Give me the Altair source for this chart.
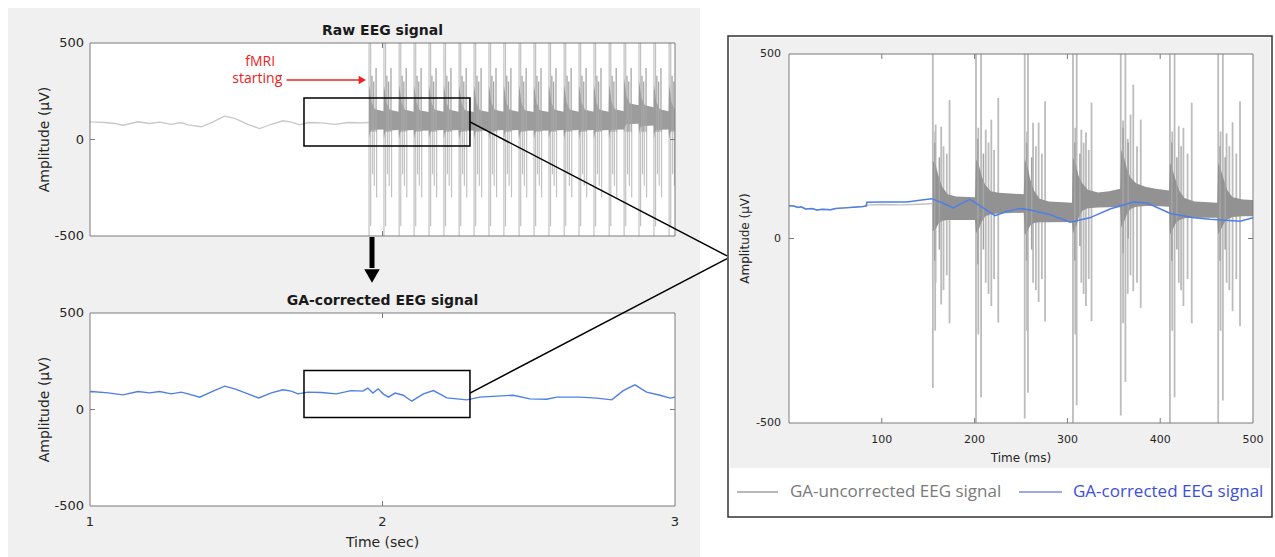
import altair as alt
import pandas as pd

# ---------------- data ----------------
# Raw EEG before fMRI onset (top panel): time (s), amplitude (µV)
raw_pre_t = [1.000, 1.005, 1.050, 1.084, 1.113, 1.164, 1.204, 1.238, 1.278, 1.312, 1.335, 1.381, 1.421, 1.460,
             1.495, 1.540, 1.580, 1.620, 1.660, 1.688, 1.717, 1.745, 1.791, 1.837, 1.882, 1.928, 1.955]
raw_pre_v = [92, 91, 88, 83, 74, 92, 83, 90, 78, 88, 76, 66, 91, 121,
             109, 78, 57, 79, 97, 90, 76, 88, 86, 78, 88, 86, 88]

# gradient-artifact volumes in the top panel (s) and EEG level under each
burst_t = [1.954, 2.005, 2.057, 2.108, 2.159, 2.210, 2.262, 2.313, 2.364, 2.415, 2.467,
           2.518, 2.569, 2.621, 2.672, 2.723, 2.775, 2.826, 2.877, 2.928, 2.980]
burst_level = [95, 92, 92, 90, 92, 92, 90, 90, 92, 92, 90,
               90, 92, 92, 92, 92, 95, 125, 115, 95, 92]
# one burst: dense band envelope (offset s, low / high relative to level)
band_off = [0.000, 0.003, 0.008, 0.020, 0.050]
band_lo = [-90, -60, -45, -45, -43]
band_hi = [190, 160, 100, 62, 52]
# one burst: spikes (offset s, low µV, high µV, tone)
spk_off = [0.000, 0.0055, 0.010, 0.012, 0.016, 0.018, 0.024, 0.026]
spk_lo = [-500, -450, 40, -180, 40, -240, 40, -300]
spk_hi = [500, 500, 330, 100, 300, 100, 370, 100]
spk_tone = ["light", "light", "dark", "light", "dark", "light", "dark", "light"]

# GA-corrected EEG (bottom panel)
cor_t = [1.000, 1.005, 1.062, 1.113, 1.164, 1.204, 1.238, 1.278, 1.312, 1.335, 1.375, 1.421, 1.460, 1.495,
         1.540, 1.577, 1.620, 1.660, 1.688, 1.711, 1.745, 1.791, 1.842, 1.893, 1.933, 1.950, 1.967, 1.985,
         2.002, 2.020, 2.043, 2.071, 2.100, 2.140, 2.174, 2.220, 2.288, 2.333, 2.447, 2.504, 2.561, 2.596,
         2.675, 2.732, 2.784, 2.823, 2.863, 2.903, 2.949, 2.983, 3.000]
cor_v = [92, 93, 86, 76, 93, 86, 93, 81, 90, 81, 64, 95, 121, 107,
         81, 60, 86, 102, 95, 81, 90, 88, 81, 98, 95, 111, 85, 107,
         81, 64, 85, 74, 43, 81, 98, 60, 50, 64, 74, 55, 53, 64,
         64, 59, 50, 98, 128, 90, 74, 59, 64]

# zoomed panel (ms): GA-corrected (blue)
zc_t = [0, 5, 10, 13, 18, 25, 30, 36, 45, 50, 60, 70, 80, 83, 84, 100, 127, 145, 154, 165,
        177, 186, 195, 208, 222, 235, 249, 260, 281, 303, 324, 346, 371, 386, 411, 436, 454, 486, 500]
zc_v = [89, 88, 84, 86, 80, 81, 77, 79, 78, 81, 83, 85, 87, 88, 98, 99, 99, 105, 108, 97,
        83, 95, 106, 85, 62, 74, 81, 77, 65, 44, 56, 80, 99, 96, 68, 56, 52, 47, 56]
# GA-uncorrected before the onset
zu_pre_t = [0, 5, 10, 13, 18, 25, 30, 36, 45, 50, 60, 70, 80, 84, 85, 100, 120, 140, 155]
zu_pre_v = [89, 88, 84, 86, 80, 81, 77, 79, 78, 81, 83, 85, 87, 88, 91, 92, 91, 93, 95]
# dense artifact band (ms, low, high)
zb_t = [155, 158, 161, 165, 171, 180, 200.5,
        201.5, 204.5, 207.5, 211.5, 217.5, 226, 253,
        254, 257, 260, 264, 270, 280, 305,
        306, 309, 312, 316, 322, 333, 345, 357,
        358, 361, 364, 368, 374, 384, 395, 409.5,
        410.5, 413.5, 416.5, 420.5, 426, 437, 461.5,
        462.5, 465.5, 468.5, 472.5, 478, 489, 500]
zb_lo = [20, 25, 40, 48, 50, 50, 50,
         15, 25, 45, 60, 66, 68, 70,
         10, 20, 35, 42, 44, 44, 45,
         15, 30, 55, 75, 82, 84, 85, 85,
         30, 45, 65, 80, 86, 88, 88, 86,
         10, 25, 40, 50, 55, 56, 56,
         10, 25, 40, 52, 58, 60, 60]
zb_hi = [210, 200, 170, 140, 120, 114, 112,
         215, 200, 170, 145, 128, 124, 120,
         215, 195, 160, 130, 108, 100, 97,
         220, 200, 170, 150, 132, 125, 128, 135,
         240, 220, 190, 165, 150, 140, 135, 130,
         205, 185, 160, 130, 110, 100, 97,
         205, 185, 160, 130, 112, 106, 104]
# light artifact spikes (ms, low, high)
zs_t = [155, 158, 164, 173, 201.5, 207, 212, 218, 225.5, 254, 257.5, 263, 269, 276, 306, 310, 315, 320,
        326, 357.5, 362.5, 368, 371, 379, 410.5, 415.5, 420, 425, 434, 462.5, 467.5, 471.5, 478, 486,
        157.5, 166.5, 170, 204, 215, 221, 256.5, 266, 272.5, 308.5, 317.5, 323,
        360, 365, 375, 413, 422.5, 429.5, 465, 474.5, 482]
zs_lo = [-405, -120, -179, -230, -500, -431, -120, -183, -228, -488, -418, -120, -172, -225, -500, -452,
         -120, -183, -224, -480, -389, -100, -143, -188, -500, -430, -120, -183, -230, -500, -439, -120,
         -197, -238,
         -250, -140, -100, -260, -150, -110, -250, -140, -110, -260, -150, -110,
         -230, -150, -120, -250, -140, -110, -250, -140, -110]
zs_hi = [500, 309, 303, 375, 500, 500, 295, 322, 381, 500, 500, 314, 314, 372, 500, 500, 295, 287,
         368, 500, 500, 336, 417, 322, 500, 500, 304, 300, 368, 500, 500, 285, 315, 372,
         290, 250, 230, 300, 260, 240, 290, 250, 230, 300, 260, 240,
         320, 270, 250, 290, 250, 230, 290, 250, 230]
# darker streaks inside each burst (ms, low, high)
zd_t = [157, 162, 203.5, 209.5, 256, 261.5, 308, 313.5, 360, 365.5, 412.5, 418, 464.5, 470]
zd_lo = [-60, -30, -70, -30, -60, -30, -60, -20, -40, 0, -60, -30, -60, -30]
zd_hi = [260, 220, 270, 230, 260, 220, 260, 230, 300, 260, 260, 220, 250, 220]

series = ["GA-uncorrected EEG signal", "GA-corrected EEG signal"]
titles = ["Raw EEG signal", "GA-corrected EEG signal"]
amp_ticks = [-500, 0, 500]
sec_ticks = [1, 2, 3]
ms_ticks = [100, 200, 300, 400, 500]

# ---------------- styling ----------------
FONT = "DejaVu Sans"
LFONT = "Open Sans"
INK = "#262626"
FRAME = "#7a7a7a"
BLUE = "#4f7fe6"
LIGHT = "#c2c2c2"
DARK = "#9c9c9c"


def sc(dom, rng):
    return alt.Scale(domain=dom, range=rng, nice=False, zero=False)


xT, yT = sc([1, 3], [90, 675]), sc([-500, 500], [236, 43])
xB, yB = sc([1, 3], [90, 675]), sc([-500, 500], [506, 313])
xR, yR = sc([0, 500], [789, 1253]), sc([-500, 500], [423, 54])


def enc(chart, xs, ys, x="x", y="y", x2=None, y2=None):
    e = dict(x=alt.X(f"{x}:Q", scale=xs, axis=None), y=alt.Y(f"{y}:Q", scale=ys, axis=None))
    if x2:
        e["x2"] = alt.X2(f"{x2}:Q")
    if y2:
        e["y2"] = alt.Y2(f"{y2}:Q")
    return chart.encode(**e)


def box(xs, ys, x0, x1):
    df = pd.DataFrame({"x": [x0], "x2": [x1], "y": [-500], "y2": [500]})
    bg = enc(alt.Chart(df).mark_rect(fill="white"), xs, ys, x2="x2", y2="y2")
    fr = enc(alt.Chart(df).mark_rect(fillOpacity=0, stroke=FRAME, strokeWidth=1), xs, ys, x2="x2", y2="y2")
    return bg, fr


def ticks(xs, ys, xvals, yvals, x0, x1, dx, dy):
    rows = []
    for v in xvals:
        rows += [dict(x=v, x2=v, y=-500, y2=-500 + dy), dict(x=v, x2=v, y=500 - dy, y2=500)]
    for v in yvals:
        rows += [dict(x=x0, x2=x0 + dx, y=v, y2=v), dict(x=x1 - dx, x2=x1, y=v, y2=v)]
    return enc(alt.Chart(pd.DataFrame(rows)).mark_rule(color=FRAME, strokeWidth=1), xs, ys, x2="x2", y2="y2")


def y_labels(ys, px, size):
    df = pd.DataFrame({"y": amp_ticks, "label": [str(v) for v in amp_ticks]})
    return alt.Chart(df).mark_text(font=FONT, fontSize=size, color=INK, align="right", baseline="middle").encode(
        x=alt.value(px), y=alt.Y("y:Q", scale=ys, axis=None), text="label:N")


def y_title(ys, px, size):
    df = pd.DataFrame({"y": [0], "label": ["Amplitude (µV)"]})
    return alt.Chart(df).mark_text(font=FONT, fontSize=size, color=INK, angle=270, align="center",
                                   baseline="middle").encode(
        x=alt.value(px), y=alt.Y("y:Q", scale=ys, axis=None), text="label:N")


def x_labels(xs, vals, py, size):
    df = pd.DataFrame({"x": vals, "label": [str(v) for v in vals]})
    return alt.Chart(df).mark_text(font=FONT, fontSize=size, color=INK, align="center", baseline="middle").encode(
        x=alt.X("x:Q", scale=xs, axis=None), y=alt.value(py), text="label:N")


def x_title(xs, xc, label, py, size):
    df = pd.DataFrame({"x": [xc], "label": [label]})
    return alt.Chart(df).mark_text(font=FONT, fontSize=size, color=INK, align="center", baseline="middle").encode(
        x=alt.X("x:Q", scale=xs, axis=None), y=alt.value(py), text="label:N")


def title_text(xs, ys, xc, label):
    df = pd.DataFrame({"x": [xc], "y": [500], "label": [label]})
    return enc(alt.Chart(df).mark_text(font=FONT, fontSize=14, fontWeight="bold", color="#1a1a1a",
                                       baseline="middle", dy=-12), xs, ys).encode(text="label:N")


def zoom_box(xs, ys, y0, y1):
    df = pd.DataFrame({"x": [1.7316], "x2": [2.299], "y": [y0], "y2": [y1]})
    return enc(alt.Chart(df).mark_rect(fillOpacity=0, stroke="black", strokeWidth=1.5), xs, ys, x2="x2", y2="y2")


# ---------------- top panel ----------------
band_rows, spk_rows = [], []
for bt, lvl in zip(burst_t, burst_level):
    for o, lo, hi in zip(band_off, band_lo, band_hi):
        t = round(bt + o, 4)
        if t <= 3.0:
            band_rows.append(dict(x=t, lo=lvl + lo, hi=lvl + hi))
    for o, lo, hi, tone in zip(spk_off, spk_lo, spk_hi, spk_tone):
        t = round(bt + o, 4)
        if t <= 3.0:
            spk_rows.append(dict(x=t, lo=lo, hi=hi, tone=tone))
band_df = pd.DataFrame(band_rows)
spk_df = pd.DataFrame(spk_rows)

t_bg, t_fr = box(xT, yT, 1, 3)
t_pre = enc(alt.Chart(pd.DataFrame({"x": raw_pre_t, "y": raw_pre_v})).mark_line(color="#c8c8c8", strokeWidth=1.3),
            xT, yT)
t_spk_l = enc(alt.Chart(spk_df).transform_filter("datum.tone == 'light'").mark_rule(color=LIGHT, strokeWidth=1.2),
              xT, yT, y="lo", y2="hi")
t_band = enc(alt.Chart(band_df).mark_area(color=DARK, opacity=1), xT, yT, y="lo", y2="hi")
t_spk_d = enc(alt.Chart(spk_df).transform_filter("datum.tone == 'dark'").mark_rule(color="#a6a6a6", strokeWidth=1.3),
              xT, yT, y="lo", y2="hi")
t_ticks = ticks(xT, yT, [2], [0], 1, 3, 0.017, 26)
t_rect = zoom_box(xT, yT, -34, 215)
t_conn = enc(alt.Chart(pd.DataFrame({"x": [2.299], "y": [91], "x2": [3.1778], "y2": [-603]}))
             .mark_rule(color="black", strokeWidth=1.5), xT, yT, x2="x2", y2="y2")
t_title = title_text(xT, yT, 2.0, titles[0])
fmri_df = pd.DataFrame({"x": [1.582, 1.572], "y": [403, 316], "label": ["fMRI", "starting"]})
t_fmri = enc(alt.Chart(fmri_df).mark_text(font=LFONT, fontSize=14, color="#f02020", baseline="middle"),
             xT, yT).encode(text="label:N")
t_arrow = enc(alt.Chart(pd.DataFrame({"x": [1.672], "x2": [1.925], "y": [308]}))
              .mark_rule(color="#f02020", strokeWidth=1.5), xT, yT, x2="x2")
t_head = enc(alt.Chart(pd.DataFrame({"x": [1.931], "y": [308]}))
             .mark_point(shape="triangle-right", filled=True, color="#f02020", size=70, opacity=1), xT, yT)
top_panel = alt.layer(t_bg, t_pre, t_spk_l, t_band, t_spk_d, t_fr, t_ticks, t_rect, t_conn, t_title,
                      t_fmri, t_arrow, t_head, y_labels(yT, 84, 13), y_title(yT, 45, 14))

# ---------------- bottom panel ----------------
b_bg, b_fr = box(xB, yB, 1, 3)
b_line = enc(alt.Chart(pd.DataFrame({"x": cor_t, "y": cor_v})).mark_line(color=BLUE, strokeWidth=1.4), xB, yB)
b_ticks = ticks(xB, yB, [2], [0], 1, 3, 0.017, 26)
b_rect = zoom_box(xB, yB, -41, 202)
b_conn = enc(alt.Chart(pd.DataFrame({"x": [2.299], "y": [85], "x2": [3.1778], "y2": [782]}))
             .mark_rule(color="black", strokeWidth=1.5), xB, yB, x2="x2", y2="y2")
b_title = title_text(xB, yB, 2.0, titles[1])
bottom_panel = alt.layer(b_bg, b_line, b_fr, b_ticks, b_rect, b_conn, b_title,
                         y_labels(yB, 84, 13), y_title(yB, 45, 14),
                         x_labels(xB, sec_ticks, 522, 13), x_title(xB, 2.0, "Time (sec)", 543, 14))

# ---------------- zoomed panel ----------------
r_bg, r_fr = box(xR, yR, 0, 500)
r_spk = enc(alt.Chart(pd.DataFrame({"x": zs_t, "lo": zs_lo, "hi": zs_hi}))
            .mark_rule(color="#bcbcbc", strokeWidth=1.8), xR, yR, y="lo", y2="hi")
r_band = enc(alt.Chart(pd.DataFrame({"x": zb_t, "lo": zb_lo, "hi": zb_hi})).mark_area(color="#929292", opacity=1),
             xR, yR, y="lo", y2="hi")
r_dark = enc(alt.Chart(pd.DataFrame({"x": zd_t, "lo": zd_lo, "hi": zd_hi}))
             .mark_rule(color="#a4a4a4", strokeWidth=1.5), xR, yR, y="lo", y2="hi")
r_pre = enc(alt.Chart(pd.DataFrame({"x": zu_pre_t, "y": zu_pre_v})).mark_line(color=LIGHT, strokeWidth=1.4), xR, yR)
r_blue = enc(alt.Chart(pd.DataFrame({"x": zc_t, "y": zc_v})).mark_line(color=BLUE, strokeWidth=1.5), xR, yR)
r_ticks = ticks(xR, yR, [100, 200, 300, 400], [0], 0, 500, 5.4, 13.5)
right_panel = alt.layer(r_bg, r_spk, r_band, r_dark, r_pre, r_blue, r_fr, r_ticks,
                        y_labels(yR, 781, 11), y_title(yR, 745, 12),
                        x_labels(xR, ms_ticks, 440, 11), x_title(xR, 250, "Time (ms)", 458, 12))

# ---------------- figure decorations ----------------
one = pd.DataFrame({"a": [0]})
left_bg = alt.Chart(one).mark_rect(fill="#f0f0f0").encode(
    x=alt.value(8), x2=alt.value(700), y=alt.value(8), y2=alt.value(557))
right_box = alt.Chart(one).mark_rect(fill="white", stroke="#333333", strokeWidth=1.5).encode(
    x=alt.value(728), x2=alt.value(1272), y=alt.value(36), y2=alt.value(517))
right_inner = alt.Chart(one).mark_rect(fill="#f0f0f0").encode(
    x=alt.value(730), x2=alt.value(1270), y=alt.value(38), y2=alt.value(468))
down_line = alt.Chart(one).mark_rule(color="black", strokeWidth=5).encode(
    x=alt.value(372), y=alt.value(237), y2=alt.value(268))
down_head = alt.Chart(one).mark_point(shape="triangle-down", filled=True, color="black", size=240, opacity=1).encode(
    x=alt.value(372), y=alt.value(276))
leg1_line = alt.Chart(one).mark_rule(color="#6e6e6e", strokeWidth=1).encode(
    x=alt.value(737), x2=alt.value(778), y=alt.value(492))
leg1_text = alt.Chart(one).mark_text(font=LFONT, fontSize=17, color="#7a7a7a", align="left", baseline="middle").encode(
    x=alt.value(790), y=alt.value(492), text=alt.value(series[0]))
leg2_line = alt.Chart(one).mark_rule(color="#3d50d8", strokeWidth=1).encode(
    x=alt.value(1019), x2=alt.value(1062), y=alt.value(492))
leg2_text = alt.Chart(one).mark_text(font=LFONT, fontSize=17, color="#3b4edc", align="left", baseline="middle").encode(
    x=alt.value(1073), y=alt.value(492), text=alt.value(series[1]))

chart = alt.layer(
    left_bg, right_box, right_inner, top_panel, bottom_panel, right_panel,
    down_line, down_head, leg1_line, leg1_text, leg2_line, leg2_text
).resolve_scale(x="independent", y="independent").properties(
    width=1275, height=557, autosize=alt.AutoSizeParams(type="none"), padding=0, background="white"
).configure_view(stroke="transparent")

chart.save("out.html", embed_options={"renderer": "svg", "actions": False})
